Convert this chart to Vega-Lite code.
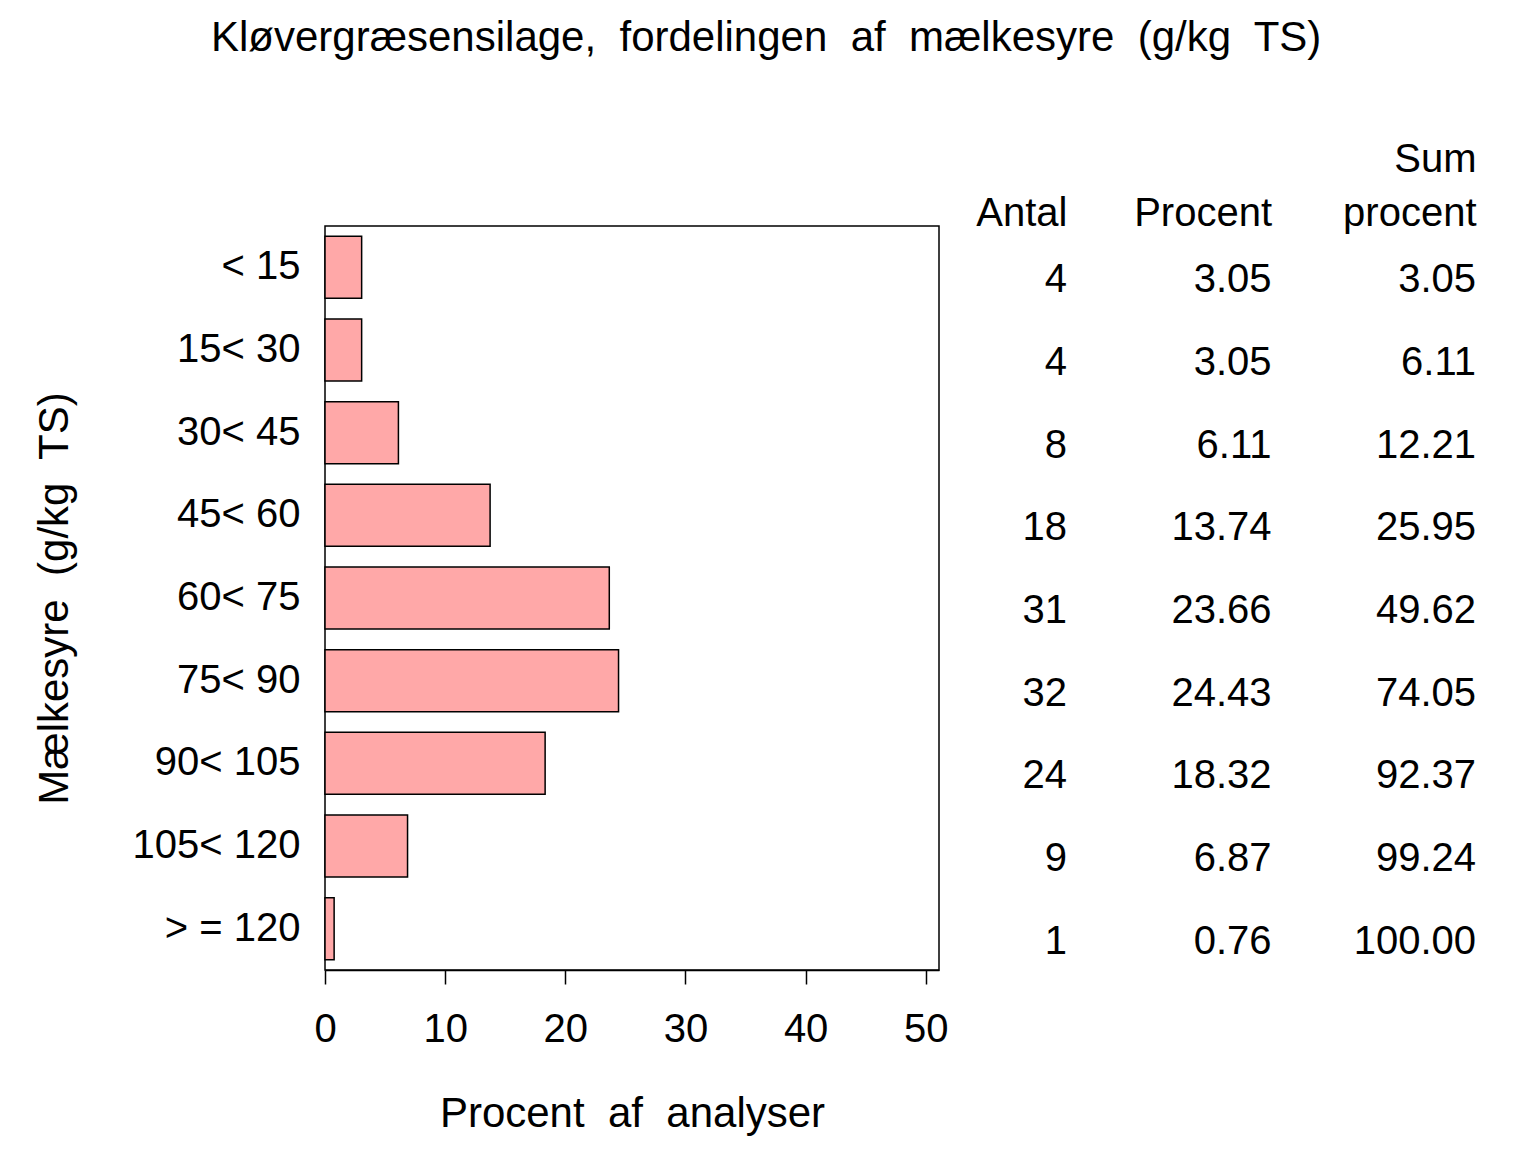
{
  "$schema": "https://vega.github.io/schema/vega-lite/v6.json",
  "description": "Kløvergræsensilage: fordeling af mælkesyre, søjler med tabel til højre",
  "padding": {"left": 32, "top": 17, "right": 10, "bottom": 10},
  "title": {
    "text": "Kløvergræsensilage,\u00a0 fordelingen\u00a0 af\u00a0 mælkesyre\u00a0 (g/kg\u00a0 TS)",
    "fontSize": 42,
    "fontWeight": "normal",
    "color": "black",
    "anchor": "middle",
    "dx": 12,
    "offset": 79
  },
  "data": {
    "values": [
      {"group": "< 15", "antal": 4, "procent": 3.05, "sum": 3.05},
      {"group": "15< 30", "antal": 4, "procent": 3.05, "sum": 6.11},
      {"group": "30< 45", "antal": 8, "procent": 6.11, "sum": 12.21},
      {"group": "45< 60", "antal": 18, "procent": 13.74, "sum": 25.95},
      {"group": "60< 75", "antal": 31, "procent": 23.66, "sum": 49.62},
      {"group": "75< 90", "antal": 32, "procent": 24.43, "sum": 74.05},
      {"group": "90< 105", "antal": 24, "procent": 18.32, "sum": 92.37},
      {"group": "105< 120", "antal": 9, "procent": 6.87, "sum": 99.24},
      {"group": "> = 120", "antal": 1, "procent": 0.76, "sum": 100.00}
    ]
  },
  "bounds": "flush",
  "spacing": 128,
  "hconcat": [
    {
      "width": 614,
      "height": 744,
      "mark": {"type": "bar", "fill": "#ffa8a8", "stroke": "black", "strokeWidth": 1.5},
      "encoding": {
        "y": {
          "field": "group",
          "type": "nominal",
          "sort": null,
          "scale": {"paddingInner": 0.25, "paddingOuter": 0.125},
          "axis": {
            "title": "Mælkesyre\u00a0 (g/kg\u00a0 TS)",
            "ticks": false,
            "tickSize": 0,
            "domain": false,
            "labelPadding": 25,
            "titlePadding": 56
          }
        },
        "x": {
          "field": "procent",
          "type": "quantitative",
          "scale": {"domain": [0, 51.1], "nice": false},
          "axis": {
            "values": [0, 10, 20, 30, 40, 50],
            "title": "Procent\u00a0 af\u00a0 analyser",
            "tickSize": 14,
            "labelPadding": 25,
            "labelFlush": false,
            "titlePadding": 44
          }
        }
      }
    },
    {
      "width": 409,
      "height": 744,
      "view": {"stroke": null},
      "encoding": {
        "y": {
          "field": "group",
          "type": "nominal",
          "sort": null,
          "scale": {"paddingInner": 0.25, "paddingOuter": 0.125},
          "axis": null
        }
      },
      "layer": [
        {
          "mark": {"type": "text", "align": "right", "baseline": "middle", "dy": 13},
          "encoding": {
            "x": {
              "datum": "Antal",
              "type": "nominal",
              "scale": {"type": "point", "padding": 0, "domain": ["Antal", "Procent", "Sum procent"]},
              "axis": {
                "orient": "top",
                "title": null,
                "domain": false,
                "ticks": false,
                "tickSize": 0,
                "labelAngle": 0,
                "labelAlign": "right",
                "labelBaseline": "bottom",
                "labelPadding": 47,
                "labelLineHeight": 54,
                "labelOverlap": false,
                "labelExpr": "datum.value == 'Sum procent' ? ['Sum', 'procent'] : ['', datum.value]"
              }
            },
            "text": {"field": "antal", "type": "quantitative", "format": "d"}
          }
        },
        {
          "mark": {"type": "text", "align": "right", "baseline": "middle", "dy": 13},
          "encoding": {
            "x": {"datum": "Procent", "type": "nominal"},
            "text": {"field": "procent", "type": "quantitative", "format": ".2f"}
          }
        },
        {
          "mark": {"type": "text", "align": "right", "baseline": "middle", "dy": 13},
          "encoding": {
            "x": {"datum": "Sum procent", "type": "nominal"},
            "text": {"field": "sum", "type": "quantitative", "format": ".2f"}
          }
        }
      ]
    }
  ],
  "config": {
    "font": "Liberation Sans",
    "view": {"stroke": "black", "strokeWidth": 1.5},
    "axis": {
      "labelColor": "black",
      "titleColor": "black",
      "domainColor": "black",
      "tickColor": "black",
      "domainWidth": 1.5,
      "tickWidth": 1.5,
      "labelFontSize": 40,
      "titleFontSize": 42,
      "titleFontWeight": "normal",
      "grid": false
    },
    "text": {"fontSize": 40, "color": "black"}
  }
}
